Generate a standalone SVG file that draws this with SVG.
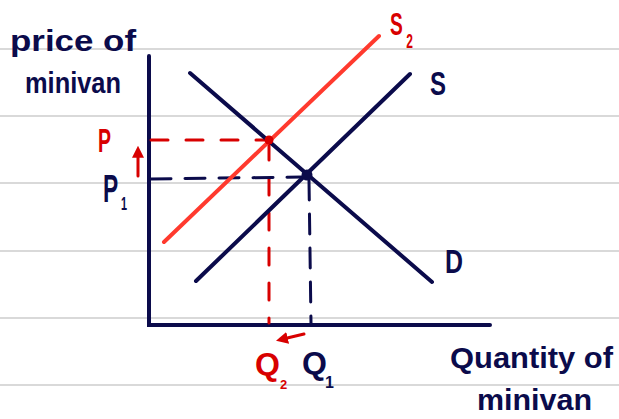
<svg xmlns="http://www.w3.org/2000/svg" width="619" height="419" viewBox="0 0 619 419">
<style>
.paper{stroke:#d9d9d9;stroke-width:2}
.navy{stroke:#0b0b4b;stroke-width:4;stroke-linecap:round;fill:none}
.red{stroke:#ff3a2e;stroke-width:4;stroke-linecap:round;fill:none}
.dred{stroke:#d80000;stroke-width:3;stroke-linecap:round;fill:none;stroke-dasharray:17 18}
.dnavy{stroke:#0b0b4b;stroke-width:3;stroke-linecap:round;fill:none;stroke-dasharray:20 14}
.tn{font-family:"Liberation Sans",Arial,sans-serif;fill:#0b0b4b;font-weight:bold}
.tr{font-family:"Liberation Sans",Arial,sans-serif;fill:#d80000;font-weight:bold}
</style>
<defs>
<marker id="ah" viewBox="0 0 10 10" refX="4" refY="5" markerWidth="4" markerHeight="4" orient="auto">
<path d="M0,0 L10,5 L0,10 Z" fill="#d80000"/>
</marker>
</defs>
<rect width="619" height="419" fill="#ffffff"/>
<g id="paper">
<line class="paper" x1="0" y1="49" x2="619" y2="49"/>
<line class="paper" x1="0" y1="116" x2="619" y2="116"/>
<line class="paper" x1="0" y1="183" x2="619" y2="183"/>
<line class="paper" x1="0" y1="251" x2="619" y2="251"/>
<line class="paper" x1="0" y1="318" x2="619" y2="318"/>
<line class="paper" x1="0" y1="385" x2="619" y2="385"/>
</g>
<g id="axes">
<path class="navy" d="M149,56 L149,325 L490,325"/>
</g>
<g id="connectors">
<path class="dred" d="M151,140 L266,140"/>
<path class="dred" d="M269,143 L269,323"/>
<path class="dnavy" d="M151,179 L302,177"/>
<path class="dnavy" d="M309,180 L311,323"/>
<path d="M304,334 L283,339" stroke="#d80000" stroke-width="3" fill="none" stroke-linecap="round" marker-end="url(#ah)"/>
<path d="M138,176 L138,153" stroke="#d80000" stroke-width="3" fill="none" stroke-linecap="round" marker-end="url(#ah)"/>
</g>
<g id="curve-D">
<line class="navy" x1="190" y1="73" x2="432" y2="282"/>
<text class="tn" x="445" y="273" font-size="33" textLength="18" lengthAdjust="spacingAndGlyphs">D</text>
</g>
<g id="curve-S">
<line class="navy" x1="196" y1="281" x2="410" y2="74"/>
<text class="tn" x="430" y="95" font-size="33" textLength="16" lengthAdjust="spacingAndGlyphs">S</text>
</g>
<g id="curve-S2">
<line class="red" x1="164" y1="242" x2="379" y2="36"/>
<text class="tr" font-size="32" transform="translate(390,35) scale(0.6,1)"><tspan x="0" y="0">S</tspan><tspan x="27" y="13" font-size="20">2</tspan></text>
</g>
<g id="point-E1">
<circle cx="307" cy="175" r="5.5" fill="#0b0b4b"/>
</g>
<g id="point-E2">
<circle cx="269" cy="140" r="4.5" fill="#d80000"/>
</g>
<g id="label-P">
<text class="tr" x="98" y="152" font-size="33" textLength="13" lengthAdjust="spacingAndGlyphs">P</text>
</g>
<g id="label-P1">
<text class="tn" font-size="38" transform="translate(103,202) scale(0.6,1)"><tspan x="0" y="0">P</tspan><tspan x="30" y="8" font-size="18">1</tspan></text>
</g>
<g id="label-Q2">
<text class="tr" font-size="32"><tspan x="255" y="375">Q</tspan><tspan x="280" y="389" font-size="13">2</tspan></text>
</g>
<g id="label-Q1">
<text class="tn" font-size="32"><tspan x="302" y="374">Q</tspan><tspan x="325" y="388" font-size="16">1</tspan></text>
</g>
<g id="y-label">
<text class="tn" x="10" y="51" font-size="30" textLength="126" lengthAdjust="spacingAndGlyphs">price of</text>
<text class="tn" x="25" y="93" font-size="30" textLength="96" lengthAdjust="spacingAndGlyphs">minivan</text>
</g>
<g id="x-label">
<text class="tn" x="450" y="368" font-size="30" textLength="163" lengthAdjust="spacingAndGlyphs">Quantity of</text>
<text class="tn" x="477" y="410" font-size="30" textLength="115" lengthAdjust="spacingAndGlyphs">minivan</text>
</g>
</svg>
